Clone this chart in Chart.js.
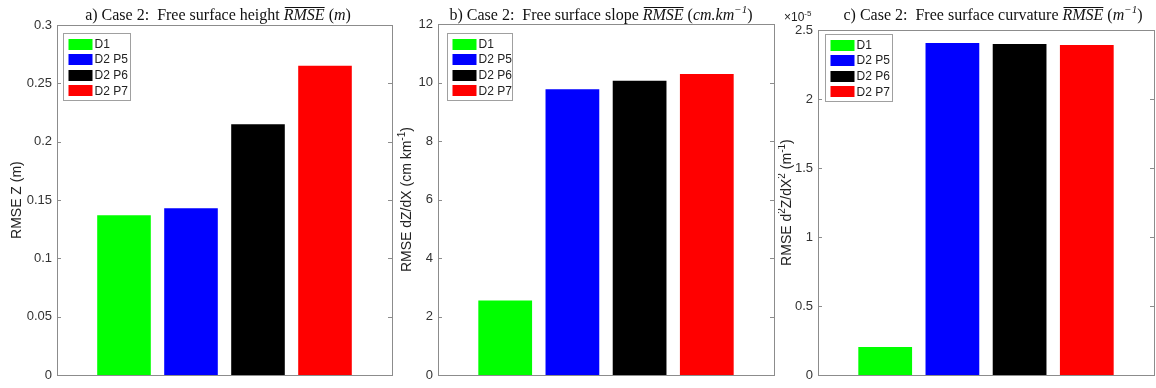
<!DOCTYPE html>
<html><head><meta charset="utf-8">
<script src="https://cdn.jsdelivr.net/npm/chart.js@4.4.1/dist/chart.umd.min.js"></script>
<style>
html,body{margin:0;padding:0;background:#fff;}
#wrap{position:relative;width:1156px;height:388px;overflow:hidden;background:#fff;}
.p{position:absolute;top:0;height:388px;}
</style></head><body>
<div id="wrap">
<div class="p" style="left:0;width:395px"><canvas id="ca" width="395" height="388"></canvas></div>
<div class="p" style="left:395px;width:383px"><canvas id="cb" width="383" height="388"></canvas></div>
<div class="p" style="left:778px;width:378px"><canvas id="cc" width="378" height="388"></canvas></div>
</div>
<script>
// ---- data ----
const categories = ['D1', 'D2 P5', 'D2 P6', 'D2 P7'];
const barColors = ['#00ff00', '#0000ff', '#000000', '#ff0000'];
const heightRMSE = [0.137, 0.143, 0.215, 0.265];          // m
const slopeRMSE = [2.55, 9.77, 10.06, 10.29];              // cm km^-1
const curvatureRMSE = [0.205, 2.405, 2.398, 2.392];        // x 10^-5 m^-1
const heightTicks = [0, 0.05, 0.1, 0.15, 0.2, 0.25, 0.3];
const slopeTicks = [0, 2, 4, 6, 8, 10, 12];
const curvatureTicks = [0, 0.5, 1, 1.5, 2, 2.5];

const FRAME = '#8c8c8c';
const SANS = '"Liberation Sans", Arial, sans-serif';
const SERIF = '"Liberation Serif", "Times New Roman", serif';

function drawRich(ctx, segs, size, family, x, y, align) {
  const fontFor = s => (s.it ? 'italic ' : '') + (s.sup ? Math.round(size * 0.7) : size) + 'px ' + family;
  let total = 0;
  segs.forEach(s => { ctx.font = fontFor(s); s.w = ctx.measureText(s.t).width; total += s.w; });
  let cx = align === 'center' ? x - total / 2 : x;
  ctx.textBaseline = 'alphabetic';
  ctx.textAlign = 'left';
  segs.forEach(s => {
    ctx.font = fontFor(s);
    const yy = s.sup ? y - size * 0.42 : y;
    ctx.fillText(s.t, cx, yy);
    if (s.ov) {
      ctx.save();
      ctx.lineWidth = 1;
      ctx.strokeStyle = ctx.fillStyle;
      ctx.beginPath();
      ctx.moveTo(cx + 1, Math.round(y - size * 0.82) + 0.5);
      ctx.lineTo(cx + s.w, Math.round(y - size * 0.82) + 0.5);
      ctx.stroke();
      ctx.restore();
    }
    cx += s.w;
  });
}

const panelPlugin = {
  id: 'panelDecor',
  afterDraw(chart) {
    const o = chart.options.plugins.panelDecor;
    const ctx = chart.ctx;
    const a = chart.chartArea;
    const ys = chart.scales.y;
    ctx.save();
    ctx.strokeStyle = FRAME;
    ctx.lineWidth = 1;
    ctx.strokeRect(Math.round(a.left) + 0.5, Math.round(a.top) + 0.5,
                   Math.round(a.right - a.left), Math.round(a.bottom - a.top));
    ys.ticks.forEach(t => {
      const py = Math.round(ys.getPixelForValue(t.value)) + 0.5;
      ctx.beginPath();
      ctx.moveTo(a.left, py); ctx.lineTo(a.left + 4, py);
      ctx.moveTo(a.right, py); ctx.lineTo(a.right - 4, py);
      ctx.stroke();
    });
    const bx = Math.round(a.left + o.legendDX) + 0.5, by = Math.round(a.top + o.legendDY) + 0.5;
    const bw = o.legendW, bh = 67;
    ctx.fillStyle = '#fff';
    ctx.fillRect(bx, by, bw, bh);
    ctx.strokeStyle = '#a0a0a0';
    ctx.strokeRect(bx, by, bw, bh);
    chart.data.labels.forEach((lab, i) => {
      const ry = by + 10 + i * 15.6;
      ctx.fillStyle = chart.data.datasets[0].backgroundColor[i];
      ctx.fillRect(bx + 5, Math.round(ry - 5), 24, 11);
      ctx.fillStyle = '#222';
      ctx.font = '12px ' + SANS;
      ctx.textAlign = 'left';
      ctx.textBaseline = 'middle';
      ctx.fillText(lab, bx + 31, ry + 1);
    });
    ctx.fillStyle = '#111';
    drawRich(ctx, o.title, 16, SERIF, o.titleX, 20, 'center');
    ctx.save();
    ctx.translate(o.ylabelX, (a.top + a.bottom) / 2);
    ctx.rotate(-Math.PI / 2);
    ctx.fillStyle = '#222';
    drawRich(ctx, o.ylabel, 14, SANS, 0, 5, 'center');
    ctx.restore();
    if (o.exponent) {
      ctx.fillStyle = '#222';
      drawRich(ctx, o.exponent, 12, SANS, a.left - 34, 21, 'left');
    }
    ctx.restore();
  }
};

function makePanel(id, values, ticks, cfg) {
  return new Chart(document.getElementById(id), {
    type: 'bar',
    data: {
      labels: categories,
      datasets: [{
        data: values.map((v, i) => ({ x: i + 1, y: v })),
        backgroundColor: barColors,
        borderWidth: 0,
        barPercentage: 0.8,
        categoryPercentage: 1.0
      }]
    },
    options: {
      responsive: false,
      animation: false,
      devicePixelRatio: 1,
      layout: { padding: { left: 0, right: cfg.padR, top: cfg.padT, bottom: cfg.padB } },
      plugins: {
        legend: { display: false },
        tooltip: { enabled: false },
        title: { display: false },
        panelDecor: cfg
      },
      scales: {
        x: { type: 'linear', offset: false, min: 0, max: categories.length + 1, display: false, ticks: { stepSize: 1 } },
        y: {
          min: ticks[0], max: ticks[ticks.length - 1],
          afterBuildTicks: s => { s.ticks = ticks.map(v => ({ value: v })); },
          afterFit: s => { s.width = cfg.yW; },
          grid: { display: false, drawTicks: false },
          border: { display: false },
          ticks: {
            padding: 5,
            color: '#333',
            font: { family: SANS, size: 13 },
            callback: v => String(v)
          }
        }
      }
    },
    plugins: [panelPlugin]
  });
}

makePanel('ca', heightRMSE, heightTicks, {
  yW: 57, padR: 3, padT: 25, padB: 8,
  legendDX: 6, legendDY: 8, legendW: 67,
  titleX: 218, ylabelX: 16,
  title: [{ t: 'a) Case 2:  Free surface height ' }, { t: 'RMSE', it: 1, ov: 1 }, { t: ' (' }, { t: 'm', it: 1 }, { t: ')' }],
  ylabel: [{ t: 'RMSE Z (m)' }]
});
makePanel('cb', slopeRMSE, slopeTicks, {
  yW: 43, padR: 4, padT: 24, padB: 8,
  legendDX: 9, legendDY: 9, legendW: 65,
  titleX: 601 - 395, ylabelX: 406 - 395,
  title: [{ t: 'b) Case 2:  Free surface slope ' }, { t: 'RMSE', it: 1, ov: 1 }, { t: ' (' }, { t: 'cm.km', it: 1 }, { t: '−1', it: 1, sup: 1 }, { t: ')' }],
  ylabel: [{ t: 'RMSE dZ/dX (cm km' }, { t: '-1', sup: 1 }, { t: ')' }]
});
makePanel('cc', curvatureRMSE, curvatureTicks, {
  yW: 40, padR: 2, padT: 30, padB: 9,
  legendDX: 7, legendDY: 4, legendW: 67,
  titleX: 993 - 778, ylabelX: 786 - 778,
  title: [{ t: 'c) Case 2:  Free surface curvature ' }, { t: 'RMSE', it: 1, ov: 1 }, { t: ' (' }, { t: 'm', it: 1 }, { t: '−1', it: 1, sup: 1 }, { t: ')' }],
  ylabel: [{ t: 'RMSE d' }, { t: '2', sup: 1 }, { t: 'Z/dX' }, { t: '2', sup: 1 }, { t: ' (m' }, { t: '-1', sup: 1 }, { t: ')' }],
  exponent: [{ t: '×10' }, { t: '-5', sup: 1 }]
});
</script>
</body></html>
